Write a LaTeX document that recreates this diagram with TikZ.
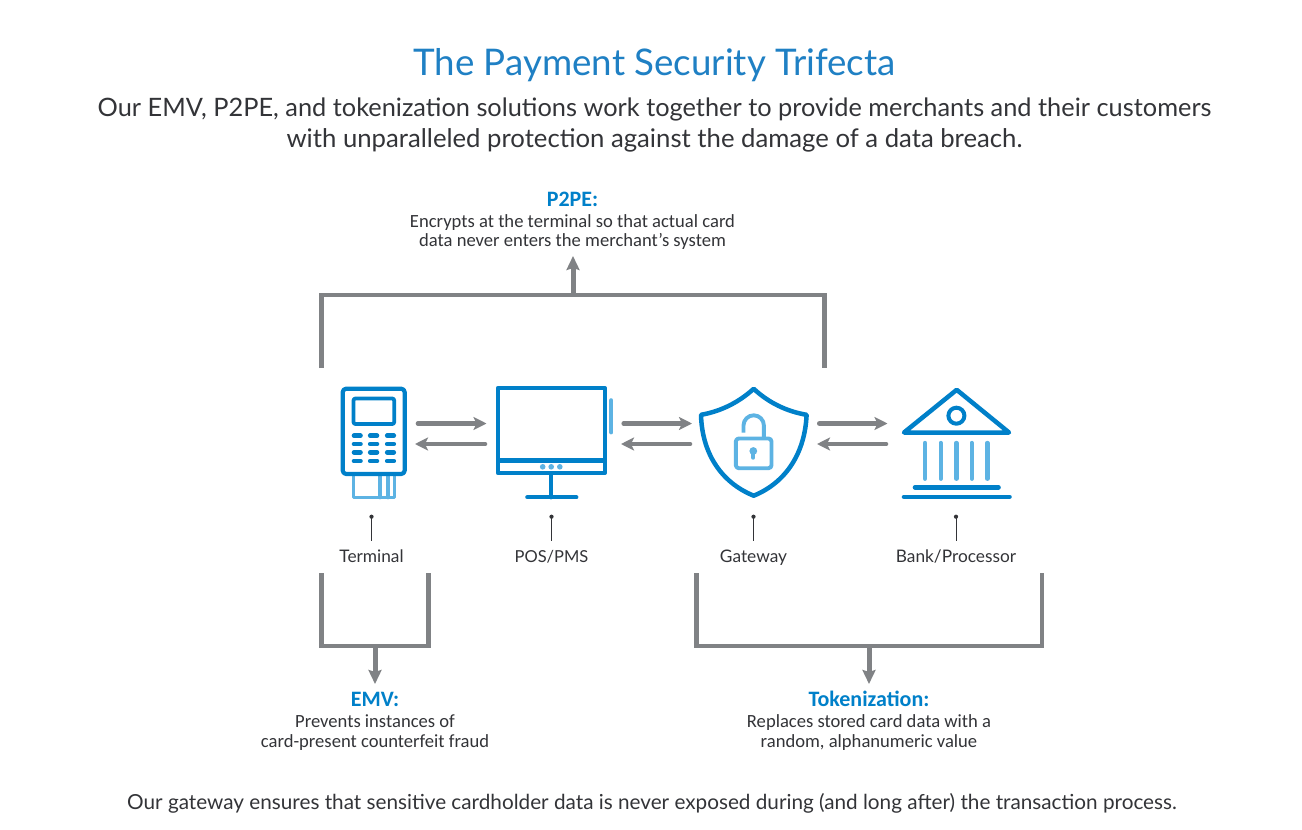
\documentclass[tikz,border=0pt]{standalone}
\usepackage{fontspec}
\setmainfont{Lato}
\newfontfamily\callfont{Carlito}
\usetikzlibrary{arrows.meta}
\definecolor{cblue}{HTML}{0080C9}
\definecolor{clight}{HTML}{5DB3E3}
\definecolor{cgray}{HTML}{808285}
\definecolor{ctitle}{HTML}{1F80C4}
\definecolor{ctext}{HTML}{333438}
\tikzset{
 x=1pt,y=-1pt,
 icon/.style={draw=cblue,line width=4.2pt,line join=round,line cap=round},
 iconlight/.style={draw=clight,line width=3.9pt,line join=round,line cap=round},
 flow/.style={draw=cgray,line width=4.6pt,-{Stealth[length=13pt,width=13pt,inset=3pt]},line cap=round},
 bracket/.style={draw=cgray,line width=4.8pt,line join=miter},
 brarrow/.style={draw=cgray,line width=5pt,-{Stealth[length=14pt,width=13pt,inset=2pt]}},
 tick/.style={draw=ctext,line width=.9pt},
 lab/.style={text=ctext,font=\fontsize{17.3}{19}\selectfont,inner sep=0pt},
 callhead/.style={text=cblue,font=\callfont\bfseries\fontsize{22}{24}\selectfont,inner sep=0pt},
 callbody/.style={text=ctext,font=\callfont\fontsize{18.6}{21}\selectfont,inner sep=0pt},
 subline/.style={text=ctext,font=\fontsize{25.35}{28}\selectfont,inner sep=0pt,anchor=base},
}
\newcommand{\ticklab}[5][]{%
 \fill[ctext] (#2,516.7) circle (2.1);
 \coordinate (#4a) at (#2,516.7);
 \coordinate (#4b) at (#2,541);
 \draw[tick] (#4a) -- (#4b);
 \node[lab,anchor=base,#1] (#4) at (#3,562.3) {#5};
}
\begin{document}
\begin{tikzpicture}
\useasboundingbox (0,0) rectangle (1302,830);
\fill[white] (0,0) rectangle (1302,830);
% heading
\node[text=ctitle,font=\fontsize{36.7}{40}\selectfont,inner sep=0pt,anchor=base] (title) at (654.5,75.2) {The Payment Security Trifecta};
\node[subline] (sub1) at (654.5,116.6) {Our EMV, P2PE, and tokenization solutions work together to provide merchants and their customers};
\node[subline,font=\fontsize{25.7}{28}\selectfont] (sub2) at (654.5,147.6) {with unparalleled protection against the damage of a data breach.};
\node[text=ctext,font=\fontsize{20.72}{24}\selectfont,inner sep=0pt,anchor=base] (foot) at (652,809) {Our gateway ensures that sensitive cardholder data is never exposed during (and long after) the transaction process.};
% callouts
\node[callhead,anchor=base] (p2pe) at (572.5,206.8) {P2PE:};
\node[callbody,anchor=base] (p2pea) at (572.5,227) {Encrypts at the terminal so that actual card};
\node[callbody,anchor=base] (p2peb) at (572.5,246) {data never enters the merchant’s system};
\node[callhead,anchor=base] (emv) at (375,706.8) {EMV:};
\node[callbody,anchor=base] (emva) at (375,727) {Prevents instances of};
\node[callbody,anchor=base] (emvb) at (375,747) {card-present counterfeit fraud};
\node[callhead,anchor=base] (tok) at (869,706.8) {Tokenization:};
\node[callbody,anchor=base] (toka) at (869,727) {Replaces stored card data with a};
\node[callbody,anchor=base] (tokb) at (869,747) {random, alphanumeric value};
% brackets
\coordinate (pl) at (321.5,368); \coordinate (pr) at (824.5,368);
\coordinate (pm) at (573,295); \coordinate (pt) at (573,256);
\draw[bracket] (pl) |- (pm) -| (pr);
\draw[brarrow] (pm) -- (pt);
\coordinate (el) at (321.5,573); \coordinate (er) at (428.5,573);
\coordinate (em) at (375,646); \coordinate (eb) at (375,684);
\draw[bracket] (el) |- (em) -| (er);
\draw[brarrow] (em) -- (eb);
\coordinate (tl) at (696.5,573); \coordinate (tr) at (1042,573);
\coordinate (tm) at (869,646); \coordinate (tb) at (869,684);
\draw[bracket] (tl) |- (tm) -| (tr);
\draw[brarrow] (tm) -- (tb);
% terminal
\draw[iconlight,line width=3.2pt] (353.5,476) -- (353.5,497.7) -- (394.5,497.7) -- (394.5,476);
\draw[iconlight,line width=3.2pt] (380,476) -- (380,497.7) (388,476) -- (388,497.7);
\draw[icon,rounded corners=3.5pt] (342.7,388.7) rectangle (404.7,474);
\draw[icon,line width=3.8pt,rounded corners=2pt] (353.5,398.5) rectangle (394.2,424);
\foreach \yy in {435.7,444,452.3,461}{
 \draw[icon,line width=4.6pt] (354,\yy) -- (360.5,\yy) (370.2,\yy) -- (377,\yy) (387.2,\yy) -- (393.8,\yy);
}
% monitor
\draw[icon] (498,388) rectangle (604.7,473);
\draw[icon,line cap=butt,line width=4.6pt] (498,460.7) -- (604.7,460.7);
\draw[icon] (551.3,475) -- (551.3,497.3);
\draw[icon] (527.3,497.3) -- (576.3,497.3);
\foreach \xx in {542.7,551.2,559.8}{\fill[clight] (\xx,466.8) circle (2.8);}
\draw[iconlight,line width=4.2pt] (611.3,400.3) -- (611.3,432.3);
% shield
\draw[icon,line width=4.5pt] (753.7,388.8) .. controls (738,403) and (720,411.5) .. (701,414.8)
 .. controls (702,452) and (720,482) .. (753.7,495.7)
 .. controls (787,482) and (805,452) .. (806.6,414.8)
 .. controls (787,411.5) and (769,403) .. (753.7,388.8) -- cycle;
\draw[iconlight,rounded corners=3pt] (735.8,438.5) rectangle (771.5,468.2);
\draw[iconlight,line cap=butt] (743.5,432.5) -- (743.5,425.5) arc[start angle=180,end angle=0,x radius=10.2,y radius=-10.2] -- (763.9,438);
\fill[clight] (753.3,451) circle (3.9);
\draw[clight,line width=3.8pt,line cap=round] (753.3,451) -- (753.3,457.8);
% bank
\draw[icon,line width=4.5pt] (956.7,389.8) -- (1009,432.5) -- (904,432.5) -- cycle;
\draw[icon,line width=4pt] (956.4,415.7) circle (8);
\foreach \xx in {925,940.7,956.3,971.7,987.3}{\draw[iconlight,line width=4.4pt] (\xx,443) -- (\xx,478.7);}
\draw[icon,line width=4.6pt] (915,487.3) -- (998.5,487.3);
\draw[icon,line width=4.6pt] (904,496.8) -- (1009.5,496.8);
% flows
\foreach \n/\xa/\xb/\xc/\xd in {a/418/486.5/485/415,b/623.7/692/690/621,c/819.3/887.5/886/817}{
 \coordinate (\n1) at (\xa,423.5); \coordinate (\n2) at (\xb,423.5);
 \coordinate (\n3) at (\xc,444); \coordinate (\n4) at (\xd,444);
 \draw[flow] (\n1) -- (\n2);
 \draw[flow] (\n3) -- (\n4);
}
% labels
\ticklab{371.5}{371.5}{lterm}{Terminal}
\ticklab[font=\fontsize{16.5}{19}\selectfont]{551.5}{551.5}{lpos}{POS/PMS}
\ticklab{753.5}{753.5}{lgate}{Gateway}
\ticklab{956}{956}{lbank}{Bank/Processor}
\end{tikzpicture}
\end{document}
